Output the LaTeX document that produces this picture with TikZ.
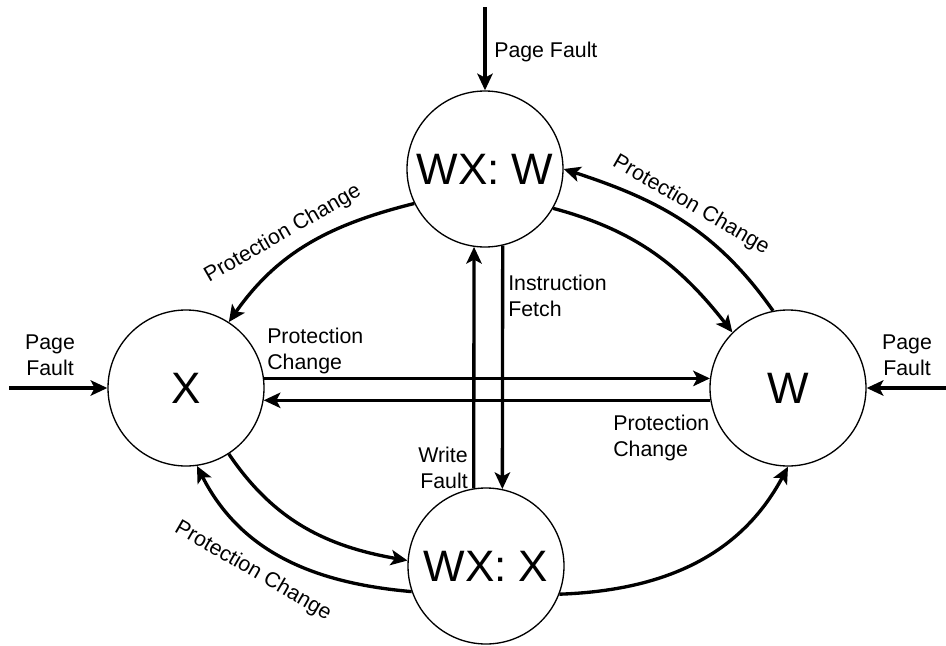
\documentclass[tikz,border=0pt]{standalone}
\usepackage{fontspec}
\setmainfont{Liberation Sans}
\usetikzlibrary{arrows.meta}
\begin{document}
\begin{tikzpicture}[x=0.75pt,y=0.75pt,
  state/.style={circle,draw,line width=1pt,minimum size=117pt,inner sep=0pt,
    font=\fontsize{33}{36}\selectfont},
  flow/.style={line width=2.5pt,-{Stealth[length=12.5pt,width=11.5pt,inset=3pt]}},
  lbl/.style={inner sep=0pt,font=\fontsize{16}{19}\selectfont},
]
\useasboundingbox (0,0) rectangle (946,-646);

% states
\node[state] (wxw) at (485,-169) {WX: W};
\node[state] (x)   at (186,-388) {X};
\node[state] (w)   at (788,-388) {W};
\node[state] (wxx) at (486,-566) {WX: X};

% entry points
\coordinate (pfTop)   at (485,-7);
\coordinate (pfLeft)  at (9,-388);
\coordinate (pfRight) at (946,-388);

\draw[flow] (pfTop) -- (wxw.north);
\draw[flow] (pfLeft) -- (x.west);
\draw[flow] (pfRight) -- (w.east);

% straight transitions
\draw[flow] (x.7) -- (w.173);
\draw[flow] (w.189) -- (x.351);
\draw[flow] (wxx.99) -- (wxw.262);
\draw[flow] (wxw.283) -- (wxx.78);

% curved transitions
\draw[flow] (wxw.206) to[out=194,in=55] (x.57);
\draw[flow] (wxw.330) to[out=-15,in=128] (w.135);
\draw[flow] (w.101) to[out=125,in=-18] (wxw.0);
\draw[flow] (x.303) to[out=-56,in=170] (wxx.176);
\draw[flow] (wxx.199) to[out=175,in=-63] (x.278);
\draw[flow] (wxx.339) to[out=2,in=242] (w.270);

% labels
\node[lbl,anchor=west] (pfTopLbl) at (494,-52) {Page Fault};
\node[lbl,align=center,anchor=north] (pfLeftLbl) at (50,-335) {Page\\Fault};
\node[lbl,align=center,anchor=north] (pfRightLbl) at (907,-335) {Page\\Fault};
\node[lbl,align=left,anchor=north west] (pcXW) at (267,-328) {Protection\\Change};
\node[lbl,align=left,anchor=north west] (pcWX) at (613,-415) {Protection\\Change};
\node[lbl,align=left,anchor=north west] (ifetch) at (508,-275) {Instruction\\Fetch};
\node[lbl,align=right,anchor=north east] (wfault) at (468,-447) {Write\\Fault};
\node[lbl,rotate=30] (pcWXWX) at (283,-234) {Protection Change};
\node[lbl,rotate=-30] (pcWWXW) at (691,-205) {Protection Change};
\node[lbl,rotate=-30] (pcWXXX) at (253,-571) {Protection Change};
\end{tikzpicture}
\end{document}
